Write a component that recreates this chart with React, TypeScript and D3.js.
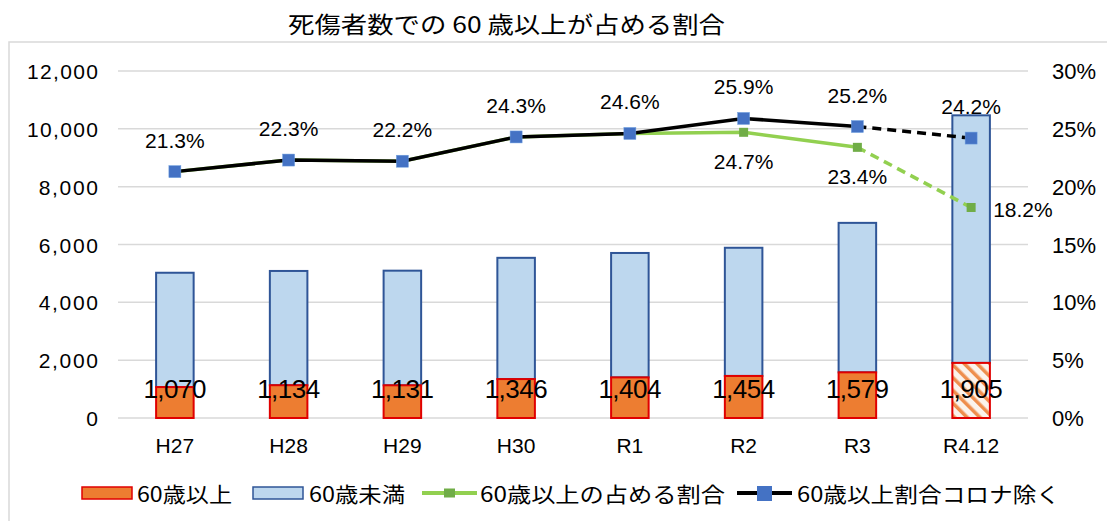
import React from "react";
import * as d3 from "d3";

const categories = ["H27", "H28", "H29", "H30", "R1", "R2", "R3", "R4.12"];
const over60 = [1070, 1134, 1131, 1346, 1404, 1454, 1579, 1905];
const under60 = [3953, 3951, 3964, 4193, 4303, 4433, 5169, 8562];
const ratioAll = [21.3, 22.3, 22.2, 24.3, 24.6, 24.7, 23.4, 18.2];
const ratioExCorona = [21.3, 22.3, 22.2, 24.3, 24.6, 25.9, 25.2, 24.2];
const leftTicks = [0, 2000, 4000, 6000, 8000, 10000, 12000];
const rightTicks = [0, 5, 10, 15, 20, 25, 30];
const title = "死傷者数での 60 歳以上が占める割合";
const legendLabels = ["60歳以上", "60歳未満", "60歳以上の占める割合", "60歳以上割合コロナ除く"];

const W = 1107, H = 521;
const M = { left: 118, right: 1028, top: 71, bottom: 418 };
const sansFont = "Arial, 'Liberation Sans', sans-serif";
const cjkFont = "'Noto Sans CJK JP', sans-serif";

export default function App() {
  const x = d3.scaleBand<string>().domain(categories).range([M.left, M.right]).paddingInner(0.67).paddingOuter(0.335);
  const yL = d3.scaleLinear().domain([0, 12000]).range([M.bottom, M.top]);
  const yR = d3.scaleLinear().domain([0, 30]).range([M.bottom, M.top]);
  const cx = (c: string) => (x(c) as number) + x.bandwidth() / 2;
  const bw = x.bandwidth();

  const line = d3.line<[number, number]>().x((d) => d[0]).y((d) => d[1]);
  const blackPts: [number, number][] = categories.map((c, i) => [cx(c), yR(ratioExCorona[i])]);
  const greenPts: [number, number][] = categories.map((c, i) => [cx(c), yR(ratioAll[i])]);
  const n = categories.length;
  const lastIdx = n - 1;
  const fmt = d3.format(",");

  return (
    <svg width={W} height={H} style={{ position: "absolute", left: 0, top: 0, background: "#fff" }}>
      <defs>
        <pattern id="hatch" patternUnits="userSpaceOnUse" width="9" height="9" patternTransform="rotate(-45)">
          <rect width="9" height="9" fill="#FBF3EC" />
          <rect x="0" y="0" width="3.5" height="9" fill="#ED7D31" opacity={0.85} />
        </pattern>
      </defs>
      <rect x={9} y={42} width={1110} height={500} fill="#fff" stroke="#D9D9D9" strokeWidth={1.5} />
      <text x={288} y={33} fontFamily={cjkFont} fontSize={23} textLength={437} lengthAdjust="spacingAndGlyphs" fill="#000">{title}</text>

      {leftTicks.map((t) => (
        <line key={"g" + t} x1={M.left} x2={M.right} y1={yL(t)} y2={yL(t)} stroke="#D9D9D9" strokeWidth={1.5} />
      ))}
      {leftTicks.map((t) => {
        const s = fmt(t);
        return (
          <text key={"l" + t} x={98} y={yL(t) + 8} textAnchor="end" fontFamily={sansFont} fontSize={21} fill="#000"
            textLength={s.length > 1 ? s.length * 11.85 : undefined} lengthAdjust="spacing">
            {s}
          </text>
        );
      })}
      {rightTicks.map((t) => (
        <text key={"r" + t} x={1052} y={yR(t) + 8} textAnchor="start" fontFamily={sansFont} fontSize={22} fill="#000">
          {t + "%"}
        </text>
      ))}
      {categories.map((c) => (
        <text key={"c" + c} x={cx(c)} y={453} textAnchor="middle" fontFamily={sansFont} fontSize={21} fill="#000">{c}</text>
      ))}

      {categories.map((c, i) => (
        <g key={"b" + c}>
          <rect x={x(c)} y={yL(over60[i] + under60[i])} width={bw} height={yL(over60[i]) - yL(over60[i] + under60[i])}
            fill="#BDD7EE" stroke="#2F5597" strokeWidth={2} />
          <rect x={x(c)} y={yL(over60[i])} width={bw} height={yL(0) - yL(over60[i])}
            fill={i === lastIdx ? "url(#hatch)" : "#ED7D31"} stroke="#E00000" strokeWidth={2} />
        </g>
      ))}
      {categories.map((c, i) => (
        <text key={"v" + c} x={cx(c)} y={yL(0) - 20} textAnchor="middle" fontFamily={sansFont} fontSize={26} fill="#000"
          textLength={63} lengthAdjust="spacing">
          {fmt(over60[i])}
        </text>
      ))}

      <path d={line(greenPts.slice(0, n - 1)) || ""} fill="none" stroke="#92D050" strokeWidth={3.5} />
      <path d={line(greenPts.slice(n - 2)) || ""} fill="none" stroke="#92D050" strokeWidth={3.5} strokeDasharray="9 6" />
      {greenPts.map((p, i) => (
        <rect key={"gm" + i} x={p[0] - 4.5} y={p[1] - 4.5} width={9} height={9} fill="#70AD47" />
      ))}
      <path d={line(blackPts.slice(0, n - 1)) || ""} fill="none" stroke="#000" strokeWidth={3.5} />
      <path d={line(blackPts.slice(n - 2)) || ""} fill="none" stroke="#000" strokeWidth={3.5} strokeDasharray="9 6" />
      {blackPts.map((p, i) => (
        <rect key={"bm" + i} x={p[0] - 6} y={p[1] - 6} width={12} height={12} fill="#4472C4" stroke="#6F9FE0" strokeWidth={0.5} />
      ))}

      {blackPts.map((p, i) => (
        <text key={"bl" + i} x={p[0]} y={p[1] - 24} textAnchor="middle" fontFamily={sansFont} fontSize={21} fill="#000">
          {ratioExCorona[i].toFixed(1) + "%"}
        </text>
      ))}
      {greenPts.map((p, i) => {
        if (i < 5) return null;
        if (i === lastIdx) {
          return (
            <text key={"gl" + i} x={p[0] + 22} y={p[1] + 10} textAnchor="start" fontFamily={sansFont} fontSize={21} fill="#000">
              {ratioAll[i].toFixed(1) + "%"}
            </text>
          );
        }
        return (
          <text key={"gl" + i} x={p[0]} y={p[1] + 37} textAnchor="middle" fontFamily={sansFont} fontSize={21} fill="#000">
            {ratioAll[i].toFixed(1) + "%"}
          </text>
        );
      })}

      <g fontFamily={cjkFont} fontSize={21} fill="#000">
        <rect x={82} y={487} width={50} height={12} fill="#ED7D31" stroke="#E00000" strokeWidth={1.5} />
        <text x={137} y={502} textLength={95} lengthAdjust="spacingAndGlyphs">{legendLabels[0]}</text>
        <rect x={253} y={487} width={50} height={12} fill="#BDD7EE" stroke="#2F5597" strokeWidth={1.5} />
        <text x={309} y={502} textLength={96} lengthAdjust="spacingAndGlyphs">{legendLabels[1]}</text>
        <line x1={422} x2={477} y1={493} y2={493} stroke="#92D050" strokeWidth={4} />
        <rect x={444} y={488.5} width={11} height={9} fill="#70AD47" />
        <text x={480} y={502} textLength={245} lengthAdjust="spacingAndGlyphs">{legendLabels[2]}</text>
        <line x1={737} x2={792} y1={493} y2={493} stroke="#000" strokeWidth={4} />
        <rect x={757} y={486} width={15} height={15} fill="#4472C4" />
        <text x={797} y={502} textLength={263} lengthAdjust="spacingAndGlyphs">{legendLabels[3]}</text>
      </g>
    </svg>
  );
}
